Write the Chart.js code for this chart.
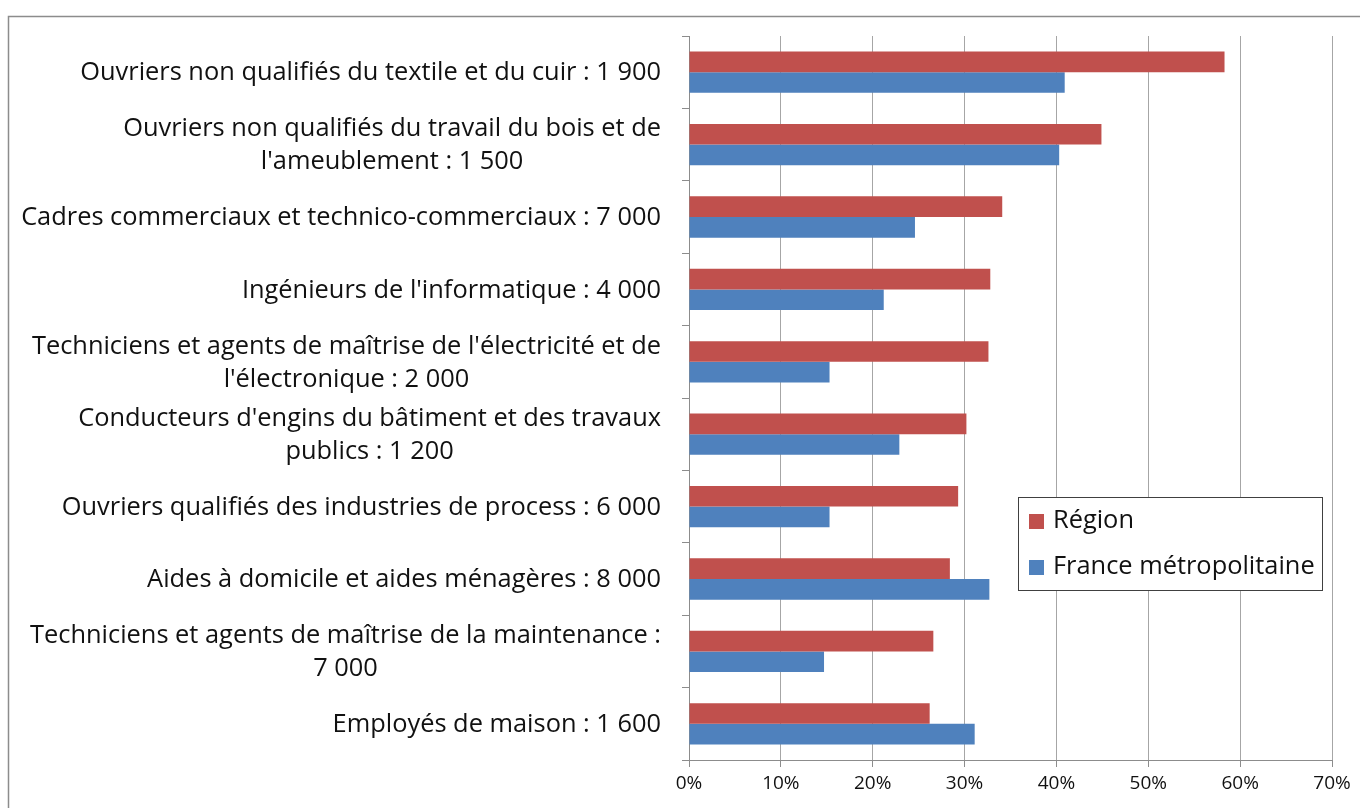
<!DOCTYPE html>
<html>
<head>
<meta charset="utf-8">
<script src="https://cdn.jsdelivr.net/npm/chart.js@4/dist/chart.umd.min.js"></script>
<style>
  html, body { margin: 0; padding: 0; background: #fff; }
  #wrap { position: relative; width: 1360px; height: 808px; }
</style>
</head>
<body>
<div id="wrap"><canvas id="c" width="1360" height="808"></canvas></div>
<script>
const categories = [
  "Ouvriers non qualifiés du textile et du cuir : 1 900",
  ["Ouvriers non qualifiés du travail du bois et de", "l'ameublement : 1 500"],
  "Cadres commerciaux et technico-commerciaux : 7 000",
  "Ingénieurs de l'informatique : 4 000",
  ["Techniciens et agents de maîtrise de l'électricité et de", "l'électronique : 2 000"],
  ["Conducteurs d'engins du bâtiment et des travaux", "publics : 1 200"],
  "Ouvriers qualifiés des industries de process : 6 000",
  "Aides à domicile et aides ménagères : 8 000",
  ["Techniciens et agents de maîtrise de la maintenance :", "7 000"],
  "Employés de maison : 1 600"
];
const seriesNames = ["Région", "France métropolitaine"];
const region = [58.3, 44.9, 34.1, 32.8, 32.6, 30.2, 29.3, 28.4, 26.6, 26.2];
const france = [40.9, 40.3, 24.6, 21.2, 15.3, 22.9, 15.3, 32.7, 14.7, 31.1];
const xTicks = [0, 10, 20, 30, 40, 50, 60, 70];

const FONT = "'Open Sans', 'Noto Sans', sans-serif";

// pick a label font size so the widest single-line label spans like the reference (~581px)
const mctx = document.createElement('canvas').getContext('2d');
mctx.font = '22px ' + FONT;
const LABEL_SIZE = Math.round(22 * 581 / mctx.measureText(categories[0]).width * 10) / 10;

const framePlugin = {
  id: 'frame',
  beforeDraw(chart) {
    const ctx = chart.ctx;
    ctx.save();
    ctx.fillStyle = '#fff';
    ctx.fillRect(0, 0, chart.width, chart.height);
    ctx.strokeStyle = '#8c8c8c';
    ctx.lineWidth = 1.5;
    ctx.beginPath();
    ctx.moveTo(8.5, chart.height + 2);
    ctx.lineTo(8.5, 16.5);
    ctx.lineTo(chart.width + 2, 16.5);
    ctx.stroke();
    ctx.restore();
  }
};

const yLabelPlugin = {
  id: 'ylabels',
  afterDraw(chart) {
    const ctx = chart.ctx;
    const ys = chart.scales.y;
    const right = chart.chartArea.left - 28;
    const lh = 33;
    ctx.save();
    ctx.font = LABEL_SIZE + 'px ' + FONT;
    ctx.fillStyle = '#111';
    ctx.textBaseline = 'middle';
    ctx.textAlign = 'center';
    chart.data.labels.forEach((lab, i) => {
      const lines = Array.isArray(lab) ? lab : [lab];
      const yc = ys.getPixelForTick(i) + 1;
      let maxW = 0;
      lines.forEach(l => { maxW = Math.max(maxW, ctx.measureText(l).width); });
      const cx = right - maxW / 2;
      const y0 = yc - (lines.length - 1) * lh / 2;
      lines.forEach((l, k) => ctx.fillText(l, cx, y0 + k * lh));
    });
    ctx.restore();
  }
};

const legendPlugin = {
  id: 'customLegend',
  afterDraw(chart) {
    const ctx = chart.ctx;
    const x = 1018, y = 497, w = 304, h = 93;
    ctx.save();
    ctx.fillStyle = '#fff';
    ctx.fillRect(x, y, w, h);
    ctx.strokeStyle = '#404040';
    ctx.lineWidth = 1;
    ctx.strokeRect(x + 0.5, y + 0.5, w, h);
    ctx.font = LABEL_SIZE + 'px ' + FONT;
    ctx.textBaseline = 'middle';
    ctx.textAlign = 'left';
    chart.data.datasets.forEach((ds, i) => {
      const cy = y + 24 + i * 46;
      ctx.fillStyle = ds.backgroundColor;
      ctx.fillRect(x + 11, cy - 7, 15, 15);
      ctx.fillStyle = '#111';
      ctx.fillText(ds.label, x + 35, cy);
    });
    ctx.restore();
  }
};

new Chart(document.getElementById('c'), {
  type: 'bar',
  data: {
    labels: categories,
    datasets: [
      { label: seriesNames[0], data: region, backgroundColor: '#C0504D', borderWidth: 0,
        categoryPercentage: 0.57, barPercentage: 1.0 },
      { label: seriesNames[1], data: france, backgroundColor: '#4F81BD', borderWidth: 0,
        categoryPercentage: 0.57, barPercentage: 1.0 }
    ]
  },
  options: {
    indexAxis: 'y',
    responsive: false,
    animation: false,
    devicePixelRatio: 1,
    layout: { padding: { left: 0, right: 28, top: 36, bottom: 0 } },
    plugins: { legend: { display: false }, tooltip: { enabled: false } },
    scales: {
      x: {
        min: 0, max: 70,
        afterBuildTicks(scale) { scale.ticks = xTicks.map(v => ({ value: v })); },
        afterFit(scale) { scale.height = 48; },
        grid: { color: '#a6a6a6', lineWidth: 1, drawTicks: true, tickLength: 7, tickColor: '#8c8c8c' },
        border: { color: '#8c8c8c', width: 1 },
        ticks: {
          padding: 5,
          color: '#111',
          font: { family: FONT, size: 19 },
          callback: v => v + '%'
        }
      },
      y: {
        afterFit(scale) { scale.width = 689; },
        grid: { drawOnChartArea: false, drawTicks: true, tickLength: 7, color: '#8c8c8c', offset: true },
        border: { color: '#8c8c8c', width: 1 },
        ticks: { display: false }
      }
    }
  },
  plugins: [framePlugin, yLabelPlugin, legendPlugin]
});
</script>
</body>
</html>
